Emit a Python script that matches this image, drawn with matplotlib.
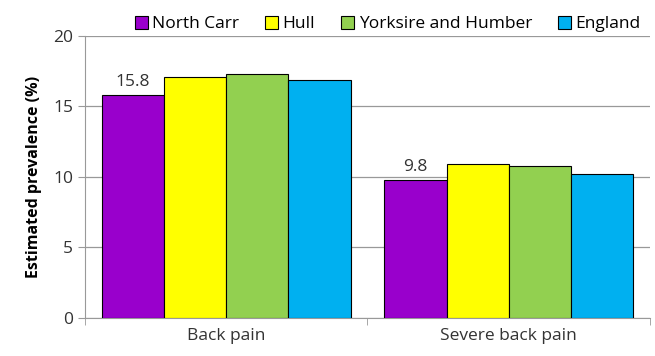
import matplotlib
matplotlib.use("Agg")
import matplotlib.pyplot as plt
import numpy as np

categories = ["Back pain", "Severe back pain"]
areas = ["North Carr", "Hull", "Yorksire and Humber", "England"]
north_carr = [15.8, 9.8]
hull = [17.1, 10.9]
yorkshire = [17.3, 10.8]
england = [16.9, 10.2]
colours = ["#9900cc", "#ffff00", "#92d050", "#00b0f0"]

plt.rcParams["font.family"] = ["Open Sans", "DejaVu Sans"]

fig = plt.figure(figsize=(6.55, 3.56), dpi=100)
ax = fig.add_axes([0.13, 0.107, 0.862, 0.792])

series = [north_carr, hull, yorkshire, england]
x = np.arange(len(categories))
width = 0.22
for i, (vals, name, col) in enumerate(zip(series, areas, colours)):
    bars = ax.bar(x + (i - 1.5) * width, vals, width, color=col,
                  edgecolor="black", linewidth=0.8, label=name, zorder=3)
    if i == 0:
        for b, v in zip(bars, vals):
            ax.text(b.get_x() + b.get_width() / 2, v + 0.35, f"{v:.1f}",
                    ha="center", va="bottom", fontsize=12.5, color="#333333")

ax.set_xlim(-0.5, 1.5)
ax.set_ylim(0, 20)
ax.set_yticks([0, 5, 10, 15, 20])
ax.yaxis.grid(True, color="#999999", linewidth=0.9, zorder=0)
ax.set_xticks(x)
ax.set_xticklabels(categories, fontsize=12.5, color="#333333")
ax.set_xticks([-0.5, 0.5, 1.5], minor=True)
ax.tick_params(axis="x", which="major", length=0, pad=7)
ax.tick_params(axis="x", which="minor", length=5, color="#999999")
ax.tick_params(axis="y", labelsize=12.5, labelcolor="#333333", length=5,
               color="#999999")
for side in ["top", "right"]:
    ax.spines[side].set_visible(False)
for side in ["left", "bottom"]:
    ax.spines[side].set_color("#999999")
ax.set_ylabel("Estimated prevalence (%)", fontsize=11.5, fontweight="bold",
              labelpad=8)

ax.legend(loc="lower right", bbox_to_anchor=(0.99, 1.0), ncol=4, frameon=False,
          fontsize=12.5, handlelength=0.75, handleheight=0.75, handletextpad=0.25,
          columnspacing=1.5, borderaxespad=0.0, borderpad=0.2)

fig.savefig("out.png", dpi=100)
